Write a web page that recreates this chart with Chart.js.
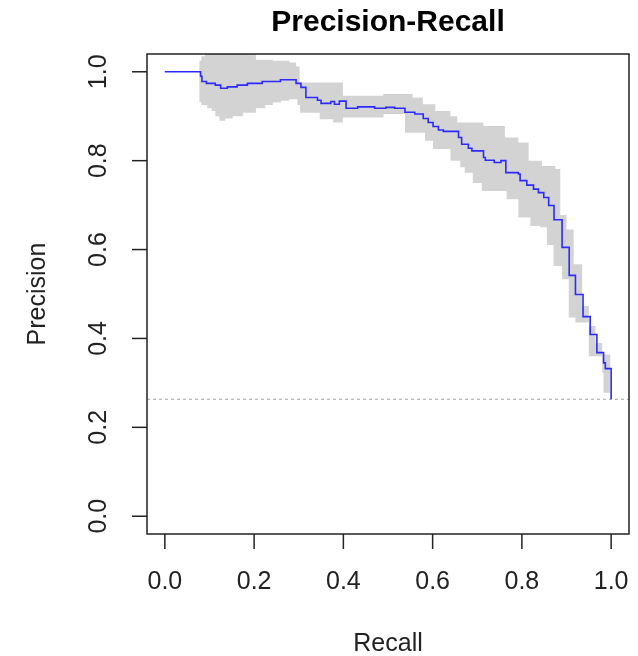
<!DOCTYPE html>
<html>
<head>
<meta charset="utf-8">
<script src="https://cdn.jsdelivr.net/npm/chart.js@4"></script>
<style>
  html, body { margin: 0; padding: 0; background: #fff; }
  canvas { display: block; }
</style>
</head>
<body>
<canvas id="prChart" width="638" height="656"></canvas>
<script>
// Precision-Recall curve, values
const prRecall = [0, 0.077, 0.080, 0.083, 0.093, 0.113, 0.125, 0.140, 0.162, 0.185, 0.218, 0.259, 0.294, 0.305, 0.316, 0.342, 0.350, 0.372, 0.380, 0.391, 0.406, 0.432, 0.470, 0.495, 0.515, 0.538, 0.560, 0.579, 0.590, 0.601, 0.613, 0.624, 0.658, 0.665, 0.680, 0.688, 0.714, 0.718, 0.738, 0.753, 0.764, 0.792, 0.796, 0.811, 0.826, 0.837, 0.849, 0.860, 0.872, 0.890, 0.906, 0.920, 0.937, 0.953, 0.968, 0.983, 0.987, 1.0];
const prPrecision = [1.0, 1.0, 0.990, 0.978, 0.974, 0.970, 0.963, 0.966, 0.970, 0.974, 0.978, 0.982, 0.974, 0.965, 0.942, 0.936, 0.929, 0.933, 0.927, 0.934, 0.918, 0.921, 0.918, 0.920, 0.918, 0.909, 0.905, 0.895, 0.886, 0.877, 0.869, 0.866, 0.852, 0.837, 0.828, 0.822, 0.807, 0.801, 0.796, 0.800, 0.773, 0.770, 0.755, 0.745, 0.736, 0.728, 0.717, 0.699, 0.667, 0.605, 0.542, 0.499, 0.449, 0.409, 0.368, 0.345, 0.332, 0.263];

// confidence band
const upperRecall = [0.077, 0.082, 0.090, 0.145, 0.204, 0.242, 0.279, 0.294, 0.302, 0.399, 0.489, 0.555, 0.578, 0.606, 0.640, 0.655, 0.714, 0.762, 0.792, 0.815, 0.845, 0.875, 0.886, 0.900, 0.916, 0.935, 0.950, 0.965, 0.980, 0.998, 1.0];
const upperPrecision = [1.025, 1.035, 1.042, 1.040, 1.027, 1.025, 1.021, 1.012, 0.976, 0.946, 0.950, 0.942, 0.927, 0.912, 0.900, 0.886, 0.878, 0.852, 0.841, 0.800, 0.788, 0.781, 0.678, 0.645, 0.567, 0.473, 0.428, 0.390, 0.364, 0.274, 0.263];
const lowerRecall = [0.077, 0.082, 0.095, 0.105, 0.113, 0.122, 0.135, 0.152, 0.175, 0.204, 0.225, 0.242, 0.260, 0.279, 0.297, 0.303, 0.347, 0.377, 0.399, 0.490, 0.538, 0.583, 0.601, 0.640, 0.662, 0.672, 0.690, 0.710, 0.766, 0.792, 0.819, 0.841, 0.856, 0.871, 0.890, 0.905, 0.920, 0.950, 0.980, 0.983, 1.0];
const lowerPrecision = [0.932, 0.925, 0.918, 0.912, 0.900, 0.890, 0.895, 0.900, 0.908, 0.918, 0.925, 0.931, 0.935, 0.938, 0.925, 0.908, 0.893, 0.886, 0.897, 0.905, 0.863, 0.845, 0.826, 0.800, 0.785, 0.773, 0.750, 0.732, 0.713, 0.672, 0.653, 0.650, 0.610, 0.563, 0.533, 0.447, 0.436, 0.360, 0.323, 0.278, 0.263];

// random classifier baseline (share of positives)
const baseline = 0.263;

const xTicks = [0, 0.2, 0.4, 0.6, 0.8, 1.0];
const yTicks = [0, 0.2, 0.4, 0.6, 0.8, 1.0];
const axisMin = -0.04;
const axisMax = 1.04;

function toPoints(xs, ys) {
    return xs.map((x, i) => ({ x: x, y: ys[i] }));
}

const FONT = '"Liberation Sans", Arial, sans-serif';

// R-style frame, ticks and labels
const rAxes = {
    id: 'rAxes',
    afterDraw(chart) {
        const ctx = chart.ctx;
        const a = chart.chartArea;
        const xs = chart.scales.x;
        const ys = chart.scales.y;
        ctx.save();
        ctx.strokeStyle = '#222';
        ctx.lineWidth = 1.5;
        ctx.strokeRect(a.left, a.top, a.right - a.left, a.bottom - a.top);

        ctx.fillStyle = '#222';
        ctx.font = '25px ' + FONT;
        ctx.textAlign = 'center';
        ctx.textBaseline = 'middle';

        xTicks.forEach(v => {
            const px = xs.getPixelForValue(v);
            ctx.beginPath();
            ctx.moveTo(px, a.bottom);
            ctx.lineTo(px, a.bottom + 15);
            ctx.stroke();
            ctx.fillText(v.toFixed(1), px, 582);
        });

        yTicks.forEach(v => {
            const py = ys.getPixelForValue(v);
            ctx.beginPath();
            ctx.moveTo(a.left, py);
            ctx.lineTo(a.left - 15, py);
            ctx.stroke();
            ctx.save();
            ctx.translate(99, py);
            ctx.rotate(-Math.PI / 2);
            ctx.fillText(v.toFixed(1), 0, 0);
            ctx.restore();
        });

        // axis titles
        ctx.fillText('Recall', (a.left + a.right) / 2, 644);
        ctx.save();
        ctx.translate(38, (a.top + a.bottom) / 2);
        ctx.rotate(-Math.PI / 2);
        ctx.fillText('Precision', 0, 0);
        ctx.restore();

        // main title
        ctx.fillStyle = '#000';
        ctx.font = 'bold 30px ' + FONT;
        ctx.fillText('Precision-Recall', (a.left + a.right) / 2, 23);
        ctx.restore();
    }
};

const ctx = document.getElementById('prChart').getContext('2d');
new Chart(ctx, {
    type: 'line',
    data: {
        datasets: [{
            label: 'upper',
            data: toPoints(upperRecall, upperPrecision),
            stepped: 'before',
            borderWidth: 0,
            borderColor: 'rgba(0,0,0,0)',
            backgroundColor: '#d3d3d3',
            pointRadius: 0,
            fill: '+1',
            order: 3
        }, {
            label: 'lower',
            data: toPoints(lowerRecall, lowerPrecision),
            stepped: 'before',
            borderWidth: 0,
            borderColor: 'rgba(0,0,0,0)',
            pointRadius: 0,
            fill: false,
            order: 4
        }, {
            label: 'PR',
            data: toPoints(prRecall, prPrecision),
            stepped: 'before',
            borderColor: '#2b2bff',
            borderWidth: 1.6,
            pointRadius: 0,
            fill: false,
            order: 1
        }, {
            label: 'baseline',
            data: toPoints([axisMin, axisMax], [baseline, baseline]),
            borderColor: '#b4b4b4',
            borderWidth: 1.2,
            borderDash: [3, 3],
            pointRadius: 0,
            fill: false,
            order: 2
        }]
    },
    options: {
        responsive: false,
        animation: false,
        devicePixelRatio: 1,
        layout: {
            padding: { left: 147, right: 9, top: 54, bottom: 122 }
        },
        plugins: {
            legend: { display: false },
            tooltip: { enabled: false },
            title: { display: false }
        },
        scales: {
            x: { type: 'linear', min: axisMin, max: axisMax, display: false },
            y: { type: 'linear', min: axisMin, max: axisMax, display: false }
        }
    },
    plugins: [rAxes]
});
</script>
</body>
</html>
